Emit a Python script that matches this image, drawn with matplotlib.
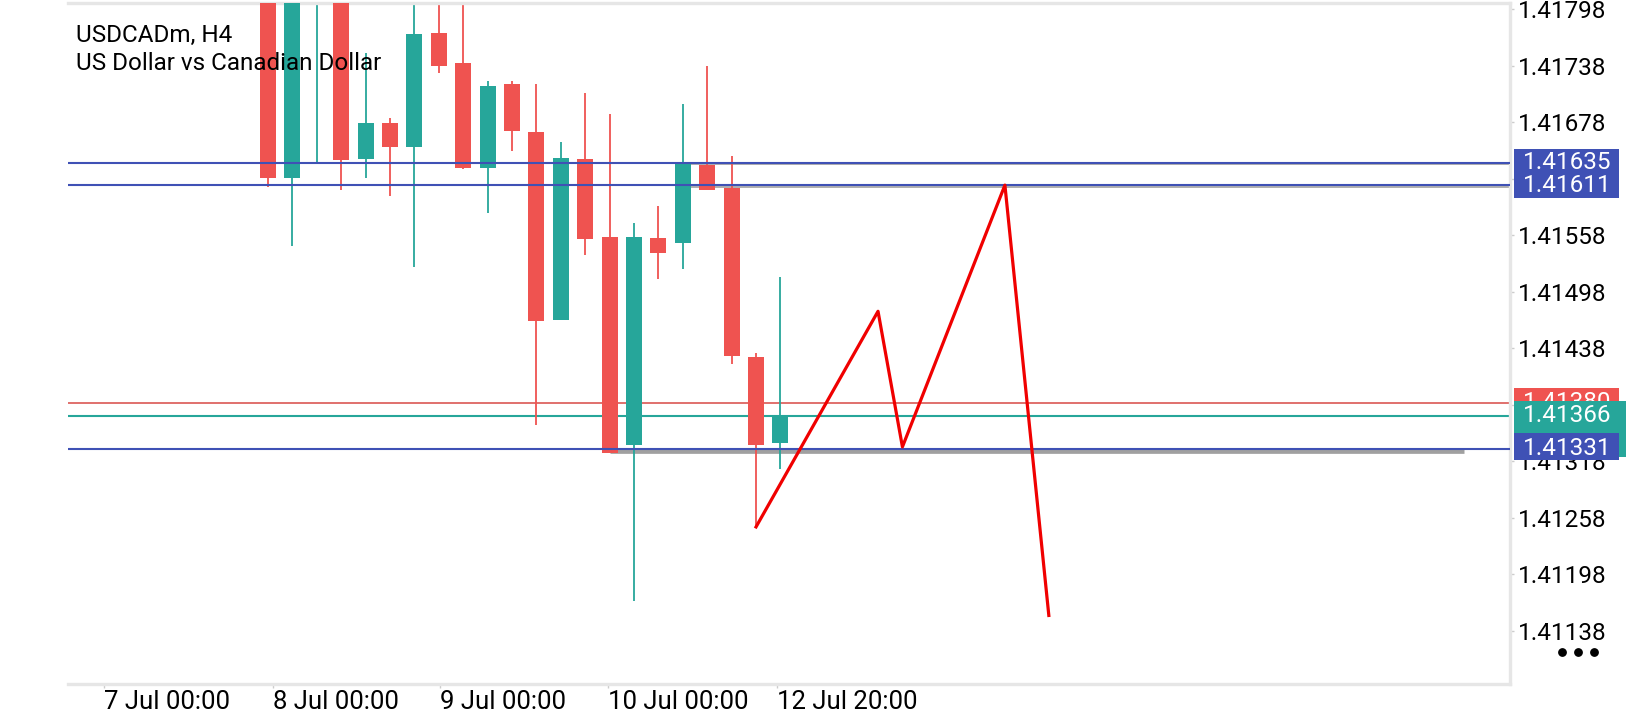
import matplotlib
matplotlib.use('Agg')
import matplotlib.pyplot as plt
from matplotlib.patches import Rectangle
from matplotlib.transforms import blended_transform_factory

plt.rcParams['font.family'] = ['Roboto', 'DejaVu Sans']

# velas H4 (open, high, low, close)
opens = [1.41905, 1.41619, 1.41880, 1.41915, 1.41639, 1.41677, 1.41652, 1.41773,
         1.41741, 1.41629, 1.41718, 1.41667, 1.41468, 1.41639, 1.41556, 1.41335,
         1.41555, 1.41550, 1.41632, 1.41608, 1.41428, 1.41337]
highs = [1.41925, 1.41930, 1.41940, 1.41930, 1.41751, 1.41682, 1.41840, 1.41830,
         1.41820, 1.41722, 1.41722, 1.41718, 1.41657, 1.41709, 1.41686, 1.41571,
         1.41589, 1.41697, 1.41738, 1.41642, 1.41433, 1.41513]
lows = [1.41609, 1.41546, 1.41636, 1.41606, 1.41619, 1.41599, 1.41524, 1.41730,
        1.41628, 1.41581, 1.41647, 1.41356, 1.41468, 1.41537, 1.41326, 1.41169,
        1.41511, 1.41522, 1.41606, 1.41421, 1.41248, 1.41310]
closes = [1.41619, 1.41880, 1.41915, 1.41638, 1.41677, 1.41652, 1.41771, 1.41738,
          1.41629, 1.41716, 1.41668, 1.41467, 1.41640, 1.41554, 1.41327, 1.41556,
          1.41539, 1.41633, 1.41606, 1.41430, 1.41335, 1.41366]

# zigzag dibujado a mano
zz_x = [20, 25, 26, 30.2, 32]
zz_y = [1.41248, 1.41477, 1.41333, 1.41611, 1.41154]

# niveles horizontales
blue_levels = [1.41635, 1.41611, 1.41331]
ask_level = 1.41380
bid_level = 1.41366
grey_thin_levels = [1.41633, 1.41609]
grey_thin_start = 17
grey_thick_level = 1.41329
grey_thick_span = (14, 49)

yticks = [1.41138, 1.41198, 1.41258, 1.41318, 1.41378, 1.41438, 1.41498,
          1.41558, 1.41618, 1.41678, 1.41738, 1.41798]
xtick_pos = [-6.72, 0.2, 7.05, 13.93, 20.86]
xtick_lab = ['7 Jul 00:00', '8 Jul 00:00', '9 Jul 00:00', '10 Jul 00:00', '12 Jul 20:00']

GREEN = '#26a69a'
RED = '#ef5350'
BLUE = '#3f51b5'
GRID = '#e6e6e6'

fig = plt.figure(figsize=(16.4, 7.2), dpi=100)
ax = fig.add_axes([68 / 1640, 1 - 684 / 720, 1442 / 1640, 681 / 720])

ax.set_xlim(-8.197, 50.9)
ax.set_ylim(1.410812, 1.418044)

# lineas de fondo
ax.axhline(ask_level, color='#dd6461', lw=1.3, zorder=1)
ax.axhline(bid_level, color=GREEN, lw=1.5, zorder=1)
for lv in grey_thin_levels:
    ax.plot([grey_thin_start, 60], [lv, lv], color='#a8a8a8', lw=1.3, zorder=1)
ax.plot(grey_thick_span, [grey_thick_level] * 2, color='#a0a0a0', lw=3.4, zorder=1,
        solid_capstyle='butt')

# velas
for i in range(len(opens)):
    o, h, l, c = opens[i], highs[i], lows[i], closes[i]
    col = GREEN if c >= o else RED
    ax.vlines(i, l, h, color=col, lw=1.3, zorder=2)
    ax.bar(i, abs(c - o), bottom=min(o, c), width=0.66, color=col, zorder=3)

for lv in blue_levels:
    ax.axhline(lv, color=BLUE, lw=1.5, zorder=4)

ax.plot(zz_x, zz_y, color='#f00000', lw=2.3, zorder=5)

# ejes
ax.spines['left'].set_visible(False)
for s in ['top', 'bottom', 'right']:
    ax.spines[s].set_color(GRID)
    ax.spines[s].set_linewidth(2.4)
ax.yaxis.tick_right()
ax.set_yticks(yticks)
ax.set_yticklabels(['%.5f' % v for v in yticks])
ax.tick_params(axis='y', length=3, width=1, color='#cccccc', pad=2.8, labelsize=17.5)
ax.set_xticks(xtick_pos)
ax.set_xticklabels(xtick_lab)
ax.tick_params(axis='x', length=3, width=1, color='#cccccc', pad=1.5, labelsize=18.5)
for lb in ax.get_xticklabels():
    lb.set_ha('left')

# etiquetas de precio a la derecha
tr = blended_transform_factory(ax.transAxes, ax.transData)
bx = 1.0028
ax.add_patch(Rectangle((bx, 1.41597), 0.0728, 0.00052, transform=tr, fc=BLUE, ec='none',
                       clip_on=False, zorder=6))
ax.add_patch(Rectangle((bx, 1.41366), 0.0728, 0.00030, transform=tr, fc=RED, ec='none',
                       clip_on=False, zorder=6))
ax.text(1.009, ask_level, '%.5f' % ask_level, transform=tr, color='white', fontsize=17.5,
        va='center', clip_on=False, zorder=6.5)
ax.add_patch(Rectangle((bx, 1.41322), 0.0777, 0.00060, transform=tr, fc=GREEN, ec='none',
                       clip_on=False, zorder=7))
ax.text(1.009, bid_level, '%.5f' % bid_level, transform=tr, color='white', fontsize=17.5,
        va='center', clip_on=False, zorder=7.5)
ax.add_patch(Rectangle((bx, 1.41319), 0.0728, 0.00029, transform=tr, fc=BLUE, ec='none',
                       clip_on=False, zorder=8))
for lv in blue_levels:
    ax.text(1.009, lv, '%.5f' % lv, transform=tr, color='white', fontsize=17.5,
            va='center', clip_on=False, zorder=8.5)

# titulo
ax.text(0.0055, 0.9427, 'USDCADm, H4', transform=ax.transAxes, fontsize=17.5, va='baseline')
ax.text(0.0055, 0.9016, 'US Dollar vs Canadian Dollar', transform=ax.transAxes,
        fontsize=17.5, va='baseline')

# menu
fig.add_artist(plt.Line2D([1562 / 1640, 1578 / 1640, 1594 / 1640], [1 - 652 / 720] * 3,
                          ls='none', marker='o', ms=5.3, color='black',
                          transform=fig.transFigure))

fig.savefig('out.png', dpi=100)
